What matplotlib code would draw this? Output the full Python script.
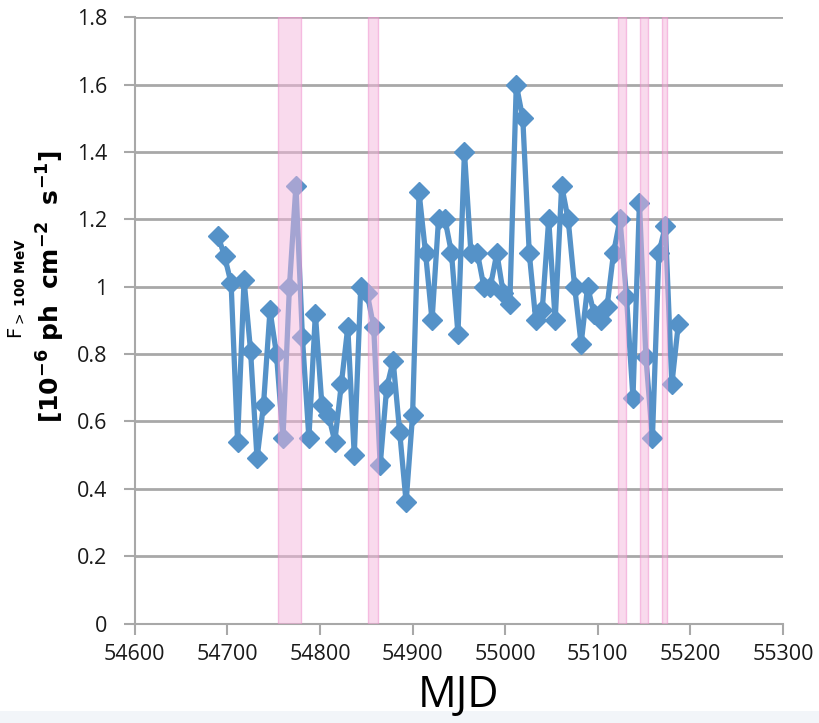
import matplotlib
matplotlib.use('Agg')
import matplotlib.pyplot as plt
from matplotlib.patches import Rectangle

# weekly light curve
mjd = [54690, 54697, 54704, 54711, 54718, 54725, 54732, 54739, 54746, 54753,
       54760, 54767, 54774, 54781, 54788, 54795, 54802, 54809, 54816, 54823,
       54830, 54837, 54844, 54851, 54858, 54865, 54872, 54879, 54886, 54893,
       54900, 54907, 54914, 54921, 54928, 54935, 54942, 54949, 54956, 54963,
       54970, 54977, 54984, 54991, 54998, 55005, 55012, 55019, 55026, 55033,
       55040, 55047, 55054, 55061, 55068, 55075, 55082, 55089, 55096, 55103,
       55110, 55117, 55124, 55131, 55138, 55145, 55152, 55159, 55166, 55173,
       55180, 55187]
flux = [1.15, 1.09, 1.01, 0.54, 1.02, 0.81, 0.49, 0.65, 0.93, 0.80,
        0.55, 1.00, 1.30, 0.85, 0.55, 0.92, 0.65, 0.62, 0.54, 0.71,
        0.88, 0.50, 1.00, 0.98, 0.88, 0.47, 0.70, 0.78, 0.57, 0.36,
        0.62, 1.28, 1.10, 0.90, 1.20, 1.20, 1.10, 0.86, 1.40, 1.10,
        1.10, 1.00, 1.00, 1.10, 0.98, 0.95, 1.60, 1.50, 1.10, 0.90,
        0.93, 1.20, 0.90, 1.30, 1.20, 1.00, 0.83, 1.00, 0.92, 0.90,
        0.94, 1.10, 1.20, 0.97, 0.67, 1.25, 0.79, 0.55, 1.10, 1.18,
        0.71, 0.89]

# shaded intervals (start, end)
band_start = [54755, 54852, 55122, 55146, 55169]
band_end = [54780, 54863, 55130, 55154, 55175]

fig = plt.figure(figsize=(8.19, 7.23), dpi=100)
ax = fig.add_axes([0.1646, 0.1376, 0.7914, 0.8385])

ax.plot(mjd, flux, color='#5592c8', lw=3.8, marker='D', ms=10.5,
        markerfacecolor='#5592c8', markeredgecolor='#5592c8', zorder=3)

for s, e in zip(band_start, band_end):
    ax.axvspan(s, e, facecolor='#f4b6dc', edgecolor='#f08ccc', alpha=0.5,
               lw=1, zorder=4)

ax.set_xlim(54600, 55300)
ax.set_ylim(0, 1.8)
ax.set_xticks(range(54600, 55301, 100))
ax.set_yticks([0, 0.2, 0.4, 0.6, 0.8, 1, 1.2, 1.4, 1.6, 1.8])
ax.set_yticklabels(['0', '0.2', '0.4', '0.6', '0.8', '1', '1.2', '1.4', '1.6', '1.8'])
ax.yaxis.grid(True, color='#a8a8a8', lw=2)
ax.set_axisbelow(True)
for side in ['top', 'right']:
    ax.spines[side].set_visible(False)
for side in ['left', 'bottom']:
    ax.spines[side].set_color('#a8a8a8')
    ax.spines[side].set_linewidth(1.5)
ax.tick_params(axis='both', direction='out', length=8, width=1.5, color='#a8a8a8',
               labelsize=15.5, labelcolor='#1a1a1a')
ax.tick_params(axis='y', pad=12)
ax.tick_params(axis='x', pad=7)
for lab in ax.get_xticklabels() + ax.get_yticklabels():
    lab.set_family('Open Sans')

ax.set_xlabel('MJD', fontsize=31, family='Open Sans', labelpad=6)

fig.text(0.021, 0.601, r'$\mathrm{F}_{>\ \mathbf{100\ MeV}}$', rotation=90,
         fontsize=14, ha='center', va='center')
fig.text(0.062, 0.603, r'$\mathbf{[10^{-6}\ ph\ \ cm^{-2}\ \ s^{-1}]}$', rotation=90,
         fontsize=18, ha='center', va='center')

fig.patches.append(Rectangle((0, 0), 1, 0.016, transform=fig.transFigure,
                             facecolor='#f2f5f9', edgecolor='none', zorder=-1))

fig.savefig('out.png', dpi=100)
